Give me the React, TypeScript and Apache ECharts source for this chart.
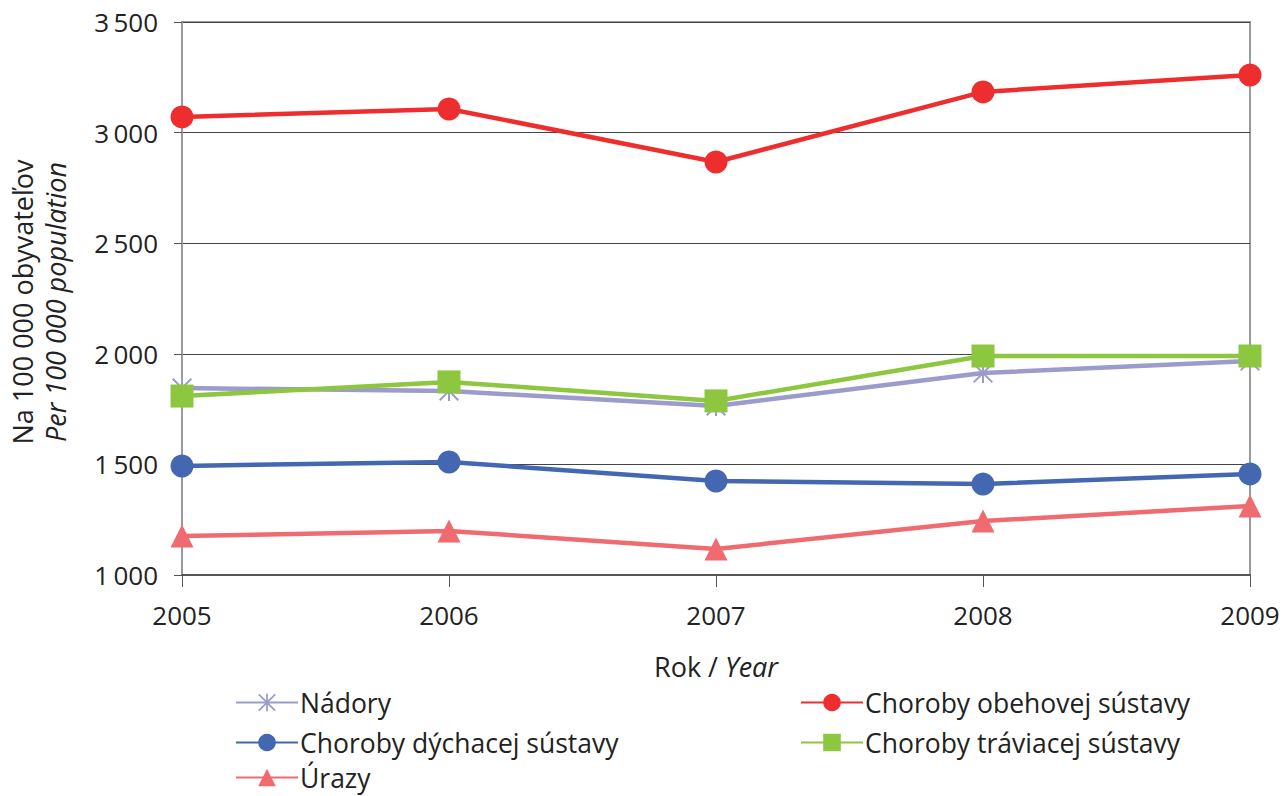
import React, { useEffect, useRef } from "react";
import * as echarts from "echarts";

const years = ["2005", "2006", "2007", "2008", "2009"];
const nadory = [1845, 1832, 1764, 1913, 1967];
const obehovej = [3071, 3107, 2867, 3184, 3260];
const dychacej = [1493, 1511, 1425, 1411, 1457];
const traviacej = [1809, 1873, 1787, 1990, 1990];
const urazy = [1176, 1199, 1118, 1244, 1312];

const yTicks = { min: 1000, max: 3500, interval: 500 };

const FONT = "'Open Sans', 'Noto Sans', sans-serif";

const asterisk =
  "path://M9 0L11 0L11 20L9 20Z M0 1.4L1.4 0L20 18.6L18.6 20Z M18.6 0L20 1.4L1.4 20L0 18.6Z";

const legendSlots: [string, number, number][] = [
  ["Nádory", 235, 689],
  ["Choroby obehovej sústavy", 800, 689],
  ["Choroby dýchacej sústavy", 235, 729],
  ["Choroby tráviacej sústavy", 800, 729],
  ["Úrazy", 235, 764],
];

export default function App() {
  const ref = useRef<HTMLDivElement>(null);
  useEffect(() => {
    if (!ref.current) return;
    const chart = echarts.init(ref.current, undefined, { renderer: "svg" });
    const mk = (name: string, data: number[], color: string, symbol: string, size: number) => ({
      name,
      type: "line",
      data,
      symbol,
      symbolSize: size,
      showSymbol: true,
      lineStyle: { color, width: 4.5 },
      itemStyle: { color, borderWidth: 0 },
      emphasis: { disabled: true },
    });
    const legendText = { fontSize: 26.5, lineHeight: 26, color: "#222", fontFamily: FONT, padding: [0, 0, 0, -3] };
    chart.setOption({
      animation: false,
      textStyle: { fontFamily: FONT },
      grid: {
        left: 182,
        right: 37,
        top: 22,
        bottom: 221,
        show: true,
        borderColor: "#9a9a9a",
        borderWidth: 2,
        containLabel: false,
      },
      xAxis: {
        type: "category",
        data: years,
        boundaryGap: false,
        axisLine: { lineStyle: { color: "#555", width: 2 } },
        axisTick: { show: true, length: 12, lineStyle: { color: "#555", width: 1 } },
        axisLabel: { fontSize: 26, color: "#222", margin: 27, fontFamily: FONT },
        name: "{a|Rok / }{b|Year}",
        nameLocation: "middle",
        nameGap: 78,
        nameTextStyle: {
          rich: {
            a: { fontSize: 27, color: "#222", fontFamily: FONT },
            b: { fontSize: 27, color: "#222", fontStyle: "italic", fontFamily: FONT },
          },
        },
      },
      yAxis: {
        type: "value",
        min: yTicks.min,
        max: yTicks.max,
        interval: yTicks.interval,
        axisLine: { show: true, lineStyle: { color: "#9a9a9a", width: 2 } },
        axisTick: { show: true, length: 8, lineStyle: { color: "#555", width: 1 } },
        axisLabel: {
          fontSize: 26,
          color: "#222",
          margin: 24,
          fontFamily: FONT,
          formatter: (v: number) => {
            const s = String(v);
            return s.length > 3 ? s.slice(0, s.length - 3) + "\u2009" + s.slice(-3) : s;
          },
        },
        splitLine: { show: true, lineStyle: { color: "#444", width: 1 } },
      },
      legend: legendSlots.map(([name, left, top]) => ({
        data: [name],
        orient: "horizontal",
        left,
        top,
        padding: 0,
        itemWidth: 62,
        itemHeight: 22,
        textStyle: legendText,
      })),
      graphic: [
        {
          type: "text",
          x: 22,
          y: 302,
          rotation: Math.PI / 2,
          style: {
            text: "Na 100 000 obyvateľov",
            font: `27px ${FONT}`,
            fill: "#222",
            align: "center",
            verticalAlign: "middle",
          },
        },
        {
          type: "text",
          x: 55,
          y: 302,
          rotation: Math.PI / 2,
          style: {
            text: "Per 100 000 population",
            font: `italic 27px ${FONT}`,
            fill: "#222",
            align: "center",
            verticalAlign: "middle",
          },
        },
      ],
      series: [
        mk("Nádory", nadory, "#9b9bcc", asterisk, 20),
        mk("Choroby obehovej sústavy", obehovej, "#ee2e2e", "circle", 23),
        mk("Choroby dýchacej sústavy", dychacej, "#4467b1", "circle", 23),
        mk("Choroby tráviacej sústavy", traviacej, "#8dc63f", "rect", 23),
        mk("Úrazy", urazy, "#f06b70", "triangle", 23),
      ],
    });
    return () => chart.dispose();
  }, []);
  return (
    <div
      ref={ref}
      style={{
        width: 1287,
        height: 796,
        position: "absolute",
        left: 0,
        top: 0,
      }}
    />
  );
}
